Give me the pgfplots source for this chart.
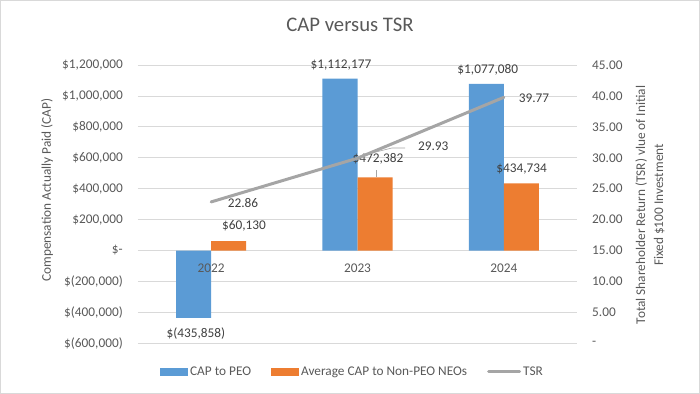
\documentclass[border=0pt]{standalone}
\usepackage{pgfplots}
\pgfplotsset{compat=1.18}
\usepackage{fontspec}
\setmainfont{Carlito}
\definecolor{cblue}{HTML}{5B9BD5}
\definecolor{corange}{HTML}{ED7D31}
\definecolor{cgray}{HTML}{A5A5A5}
\definecolor{gridc}{HTML}{D9D9D9}
\definecolor{txt}{HTML}{595959}
\definecolor{lbl}{HTML}{404040}
\newcommand{\fs}{\fontsize{13.3}{16}\selectfont}
\pgfplotsset{
  mybox/.style={legend image code/.code={\fill[##1] (0pt,-3.8pt) rectangle (28pt,3.8pt);}},
  myline/.style={legend image code/.code={\draw[##1] (0pt,0pt) -- (31pt,0pt);}},
}
\begin{document}
\begin{tikzpicture}[x=1pt,y=1pt]
\draw[gridc, line width=0.75pt] (0.4,0.4) rectangle (699.6,393.6);
\node[font=\fontsize{20.7}{24}\selectfont, text=txt] at (350,369) {CAP versus TSR};
\node[rotate=90, font=\fs, text=txt] at (47,204) {Compensation Actually Paid (CAP)};
\node[rotate=90, font=\fontsize{13.3}{18}\selectfont, text=txt, align=center] at (650,189) {Total Shareholder Return (TSR) vlue of Initial\\Fixed \$100 Investment};

\begin{axis}[
  at={(138pt,50.7pt)}, anchor=south west, scale only axis,
  width=439pt, height=278.3pt,
  xmin=-0.5, xmax=2.5, ymin=-600000, ymax=1200000,
  axis line style={draw=none},
  xtick=\empty,
  scaled y ticks=false,
  ytick={-600000,-400000,-200000,0,200000,400000,600000,800000,1000000,1200000},
  yticklabels={{\$(600,000)},{\$(400,000)},{\$(200,000)},{\$-\hspace{2pt}},{\$200,000},{\$400,000},{\$600,000},{\$800,000},{\$1,000,000},{\$1,200,000}},
  ymajorgrids, grid style={gridc, line width=0.75pt},
  major tick length=0pt,
  /pgf/number format/assume math mode=true,
  yticklabel style={font=\fs, text=txt, inner sep=0pt, xshift=-15pt},
  clip=false,
]
\addplot[ybar, bar width=35pt, bar shift=-17.5pt, fill=cblue, draw=none] coordinates {(0,-435858)(1,1112177)(2,1077080)};
\addplot[ybar, bar width=35pt, bar shift=17.5pt, fill=corange, draw=none] coordinates {(0,60130)(1,472382)(2,434734)};
\node[font=\fs, text=txt] at (axis cs:0,-113200) {2022};
\node[font=\fs, text=txt] at (axis cs:1,-113200) {2023};
\node[font=\fs, text=txt] at (axis cs:2,-113200) {2024};
\node[font=\fs, text=lbl] at (axis cs:-0.104,-535570) {\$(435,858)};
\node[font=\fs, text=lbl] at (axis cs:0.224,160400) {\$60,130};
\node[font=\fs, text=lbl] at (axis cs:0.887,1199870) {\$1,112,177};
\node[font=\fs, text=lbl] at (axis cs:1.140,591850) {\$472,382};
\draw[cgray, line width=0.6pt] (axis cs:1.131,520700) -- (axis cs:1.131,475400);
\node[font=\fs, text=lbl] at (axis cs:1.890,1167530) {\$1,077,080};
\node[font=\fs, text=lbl] at (axis cs:2.122,527170) {\$434,734};
\end{axis}

\begin{axis}[
  at={(138pt,50.7pt)}, anchor=south west, scale only axis,
  width=439pt, height=278.3pt,
  xmin=-0.5, xmax=2.5, ymin=0, ymax=45,
  axis line style={draw=none},
  xtick=\empty,
  ytick={0,5,10,15,20,25,30,35,40,45},
  yticklabels={-,5.00,10.00,15.00,20.00,25.00,30.00,35.00,40.00,45.00},
  yticklabel pos=right,
  major tick length=0pt,
  /pgf/number format/assume math mode=true,
  yticklabel style={font=\fs, text=txt, inner sep=0pt, xshift=15pt},
  clip=false,
  legend style={draw=none, fill=none, at={(0.4886,-0.103)}, anchor=center,
    legend columns=3, font=\fs, text=txt,
    /tikz/every even column/.append style={column sep=18pt}},
]
\addlegendimage{mybox, fill=cblue, draw=none}
\addlegendentry{CAP to PEO}
\addlegendimage{mybox, fill=corange, draw=none}
\addlegendentry{Average CAP to Non-PEO NEOs}
\addplot[cgray, line width=3pt, line cap=round, line join=round, myline] coordinates {(0,22.86)(1,29.93)(2,39.77)};
\addlegendentry{TSR}
\draw[cgray, line width=0.6pt] (axis cs:1.044,30.45) -- (axis cs:1.236,31.58) -- (axis cs:1.325,31.58);
\node[font=\fs, text=lbl] at (axis cs:0.218,22.69) {22.86};
\node[font=\fs, text=lbl] at (axis cs:1.518,31.9) {29.93};
\node[font=\fs, text=lbl] at (axis cs:2.206,39.67) {39.77};
\end{axis}
\end{tikzpicture}
\end{document}
